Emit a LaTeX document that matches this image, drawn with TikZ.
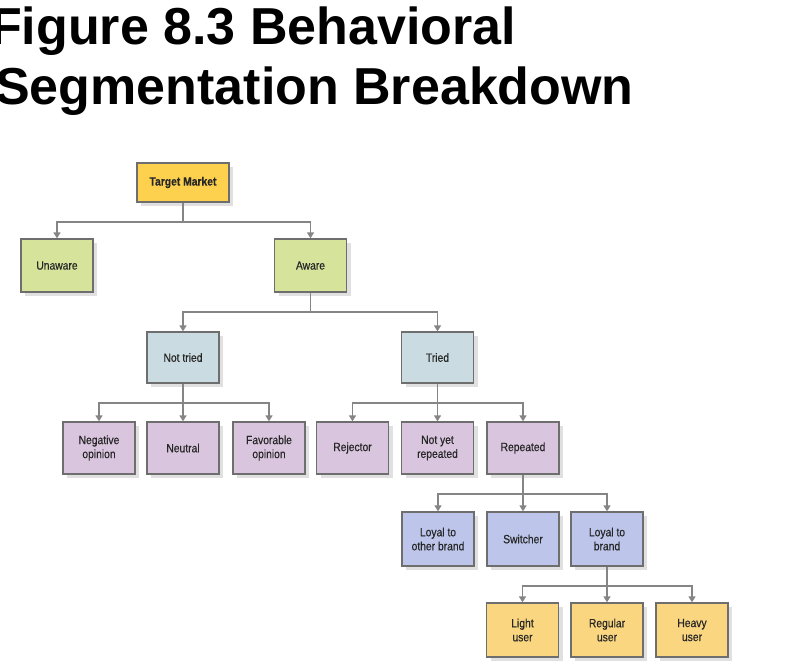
\documentclass[tikz,border=0pt]{standalone}
\usepackage{fontspec}
\setmainfont{Liberation Sans}
\newfontfamily\boxfont[FakeStretch=0.86,FakeBold=0.4]{Liberation Sans}
\usetikzlibrary{shadows,arrows.meta}
\definecolor{cTarget}{HTML}{FDD04E}
\definecolor{cGreen}{HTML}{D5E39B}
\definecolor{cBlue}{HTML}{CADCE2}
\definecolor{cPurple}{HTML}{DAC5DF}
\definecolor{cPeri}{HTML}{BDC6EA}
\definecolor{cYellow}{HTML}{FAD680}
\definecolor{cBorder}{HTML}{6E6E6E}
\definecolor{cLine}{HTML}{858585}
\tikzset{
  box/.style={draw=cBorder, line width=1.3pt, minimum width=72pt, minimum height=53pt,
    inner sep=0pt, align=center, text=black!85, font=\boxfont\fontsize{12}{14}\selectfont,
    drop shadow={shadow xshift=4pt, shadow yshift=-4pt, fill=black!12, opacity=1}},
  conn/.style={draw=cLine, line width=1.8pt,
    -{Triangle[width=7pt,length=6pt]}},
}
\begin{document}
\begin{tikzpicture}[x=1pt,y=-1pt]
\useasboundingbox (0,0) rectangle (785,669);
% title
\node[anchor=base west, inner sep=0pt, font=\bfseries\fontsize{52}{60}\selectfont] (t1) at (-10,45) {Figure 8.3 Behavioral};
\node[anchor=base west, inner sep=0pt, font=\bfseries\fontsize{52}{60}\selectfont] (t2) at (-5,104) {Segmentation Breakdown};
% level 1
\node[box, fill=cTarget, minimum width=92pt, minimum height=39pt, font=\boxfont\bfseries\fontsize{12}{14}\selectfont] (tm) at (183,182.5) {Target Market};
% level 2
\node[box, fill=cGreen] (un) at (57,265.5) {Unaware};
\node[box, fill=cGreen] (aw) at (310.5,265.5) {Aware};
% level 3
\node[box, fill=cBlue, minimum height=51pt] (nt) at (183,357.5) {Not tried};
\node[box, fill=cBlue, minimum height=51pt] (tr) at (437.5,357.5) {Tried};
% level 4
\node[box, fill=cPurple, minimum height=52pt] (neg) at (99,448) {Negative\\opinion};
\node[box, fill=cPurple, minimum height=52pt] (neu) at (183,448) {Neutral};
\node[box, fill=cPurple, minimum height=52pt] (fav) at (269,448) {Favorable\\opinion};
\node[box, fill=cPurple, minimum height=52pt] (rej) at (352.5,448) {Rejector};
\node[box, fill=cPurple, minimum height=52pt] (nyr) at (437.5,448) {Not yet\\repeated};
\node[box, fill=cPurple, minimum height=52pt] (rep) at (523,448) {Repeated};
% level 5
\node[box, fill=cPeri, minimum height=54pt] (lob) at (438,539) {Loyal to\\other brand};
\node[box, fill=cPeri, minimum height=54pt] (sw) at (523,539) {Switcher};
\node[box, fill=cPeri, minimum height=54pt] (ltb) at (607,539) {Loyal to\\brand};
% level 6
\node[box, fill=cYellow, minimum height=54pt] (lu) at (522.5,630) {Light\\user};
\node[box, fill=cYellow, minimum height=54pt] (ru) at (607,630) {Regular\\user};
\node[box, fill=cYellow, minimum height=54pt] (hu) at (692,630) {Heavy\\user};
% connectors
\foreach \p/\c in {tm/un, tm/aw, aw/nt, aw/tr, nt/neg, nt/neu, nt/fav, tr/rej, tr/nyr, tr/rep, rep/lob, rep/sw, rep/ltb, ltb/lu, ltb/ru, ltb/hu}{
  \draw[conn] (\p.south) -- ++(0,19) -| (\c.north);
}
\end{tikzpicture}
\end{document}
